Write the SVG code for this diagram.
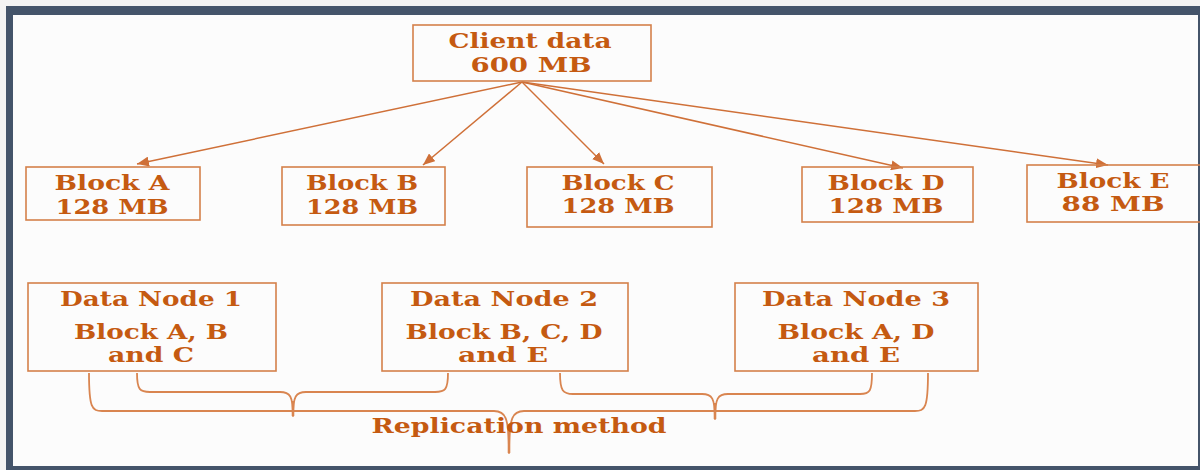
<svg xmlns="http://www.w3.org/2000/svg" width="1200" height="470" viewBox="0 0 1200 470">
  <defs>
    <style>
      .box { fill: none; stroke: #d4804a; stroke-width: 1.6; }
      .t { font-family: "DejaVu Serif", "Liberation Serif", serif; font-weight: bold; font-size: 20px; fill: #c55a11; text-anchor: middle; }
      .arr { stroke: #cf7038; stroke-width: 1.5; fill: none; marker-end: url(#ah); }
      .brace { stroke: #d98550; stroke-width: 1.8; fill: none; stroke-linejoin: round; }
      .stem { stroke: #d98550; stroke-width: 2.6; fill: none; }
    </style>
    <marker id="ah" viewBox="0 0 12 10" refX="12" refY="5" markerWidth="12" markerHeight="10" markerUnits="userSpaceOnUse" orient="auto">
      <path d="M0,0 L12,5 L0,10 Z" fill="#cf7038"/>
    </marker>
  </defs>

  <rect x="0" y="0" width="1200" height="470" fill="#f3f3f3"/>
  <rect x="6" y="6" width="1194" height="464" fill="#44546a"/>
  <rect x="13" y="15" width="1185" height="451" fill="#fcfcfc"/>

  <g id="connectors">
    <line class="arr" x1="522" y1="82" x2="137" y2="164"/>
    <line class="arr" x1="522" y1="82" x2="423" y2="165"/>
    <line class="arr" x1="522" y1="82" x2="604" y2="164"/>
    <line class="arr" x1="522" y1="82" x2="903" y2="168"/>
    <line class="arr" x1="522" y1="82" x2="1108" y2="165"/>
  </g>

  <g id="client">
    <rect class="box" x="413" y="25" width="238" height="56"/>
    <text class="t" x="530" y="48" textLength="163" lengthAdjust="spacingAndGlyphs">Client data</text>
    <text class="t" x="531" y="72" textLength="121" lengthAdjust="spacingAndGlyphs">600 MB</text>
  </g>

  <g id="blockA">
    <rect class="box" x="26" y="167" width="174" height="53"/>
    <text class="t" x="112" y="190" textLength="115" lengthAdjust="spacingAndGlyphs">Block A</text>
    <text class="t" x="112" y="214" textLength="113" lengthAdjust="spacingAndGlyphs">128 MB</text>
  </g>
  <g id="blockB">
    <rect class="box" x="282" y="167" width="163" height="58"/>
    <text class="t" x="362" y="190" textLength="112" lengthAdjust="spacingAndGlyphs">Block B</text>
    <text class="t" x="362" y="214" textLength="112" lengthAdjust="spacingAndGlyphs">128 MB</text>
  </g>
  <g id="blockC">
    <rect class="box" x="527" y="167" width="185" height="60"/>
    <text class="t" x="618" y="190" textLength="113" lengthAdjust="spacingAndGlyphs">Block C</text>
    <text class="t" x="618" y="213" textLength="113" lengthAdjust="spacingAndGlyphs">128 MB</text>
  </g>
  <g id="blockD">
    <rect class="box" x="802" y="167" width="171" height="55"/>
    <text class="t" x="886" y="190" textLength="117" lengthAdjust="spacingAndGlyphs">Block D</text>
    <text class="t" x="886" y="213" textLength="115" lengthAdjust="spacingAndGlyphs">128 MB</text>
  </g>
  <g id="blockE">
    <rect class="box" x="1027" y="165" width="175" height="57"/>
    <text class="t" x="1113" y="188" textLength="113" lengthAdjust="spacingAndGlyphs">Block E</text>
    <text class="t" x="1113" y="211" textLength="103" lengthAdjust="spacingAndGlyphs">88 MB</text>
  </g>

  <g id="datanode1">
    <rect class="box" x="28" y="283" width="248" height="88"/>
    <text class="t" x="151" y="306" textLength="182" lengthAdjust="spacingAndGlyphs">Data Node 1</text>
    <text class="t" x="151" y="339" textLength="154" lengthAdjust="spacingAndGlyphs">Block A, B</text>
    <text class="t" x="151" y="362" textLength="86" lengthAdjust="spacingAndGlyphs">and C</text>
  </g>
  <g id="datanode2">
    <rect class="box" x="382" y="283" width="246" height="88"/>
    <text class="t" x="504" y="306" textLength="188" lengthAdjust="spacingAndGlyphs">Data Node 2</text>
    <text class="t" x="504" y="339" textLength="197" lengthAdjust="spacingAndGlyphs">Block B, C, D</text>
    <text class="t" x="503" y="362" textLength="90" lengthAdjust="spacingAndGlyphs">and E</text>
  </g>
  <g id="datanode3">
    <rect class="box" x="735" y="283" width="243" height="88"/>
    <text class="t" x="856" y="306" textLength="188" lengthAdjust="spacingAndGlyphs">Data Node 3</text>
    <text class="t" x="856" y="339" textLength="157" lengthAdjust="spacingAndGlyphs">Block A, D</text>
    <text class="t" x="856" y="362" textLength="88" lengthAdjust="spacingAndGlyphs">and E</text>
  </g>

  <g id="braces">
    <path class="brace" d="M137,373 C137,390 140,392 150,392 L280,392 C290,392 293,396 293,416 C293,396 296,392 306,392 L435,392 C445,392 448,390 448,373"/>
    <line class="stem" x1="293" y1="401" x2="293" y2="416"/>
    <path class="brace" d="M89,373 C89,408 92,411 102,411 L494,411 C505,411 509,416 509,453 C509,416 513,411 524,411 L915,411 C925,411 928,408 928,373"/>
    <line class="stem" x1="509" y1="425" x2="509" y2="453"/>
    <path class="brace" d="M560,373 C560,391 563,394 573,394 L702,394 C712,394 715,398 715,419 C715,398 718,394 728,394 L860,394 C870,394 872,391 872,373"/>
    <line class="stem" x1="715" y1="403" x2="715" y2="419"/>
  </g>

  <g id="label">
    <text class="t" x="519" y="433" font-size="21" style="font-size:21px" textLength="295" lengthAdjust="spacingAndGlyphs">Replication method</text>
  </g>
</svg>
